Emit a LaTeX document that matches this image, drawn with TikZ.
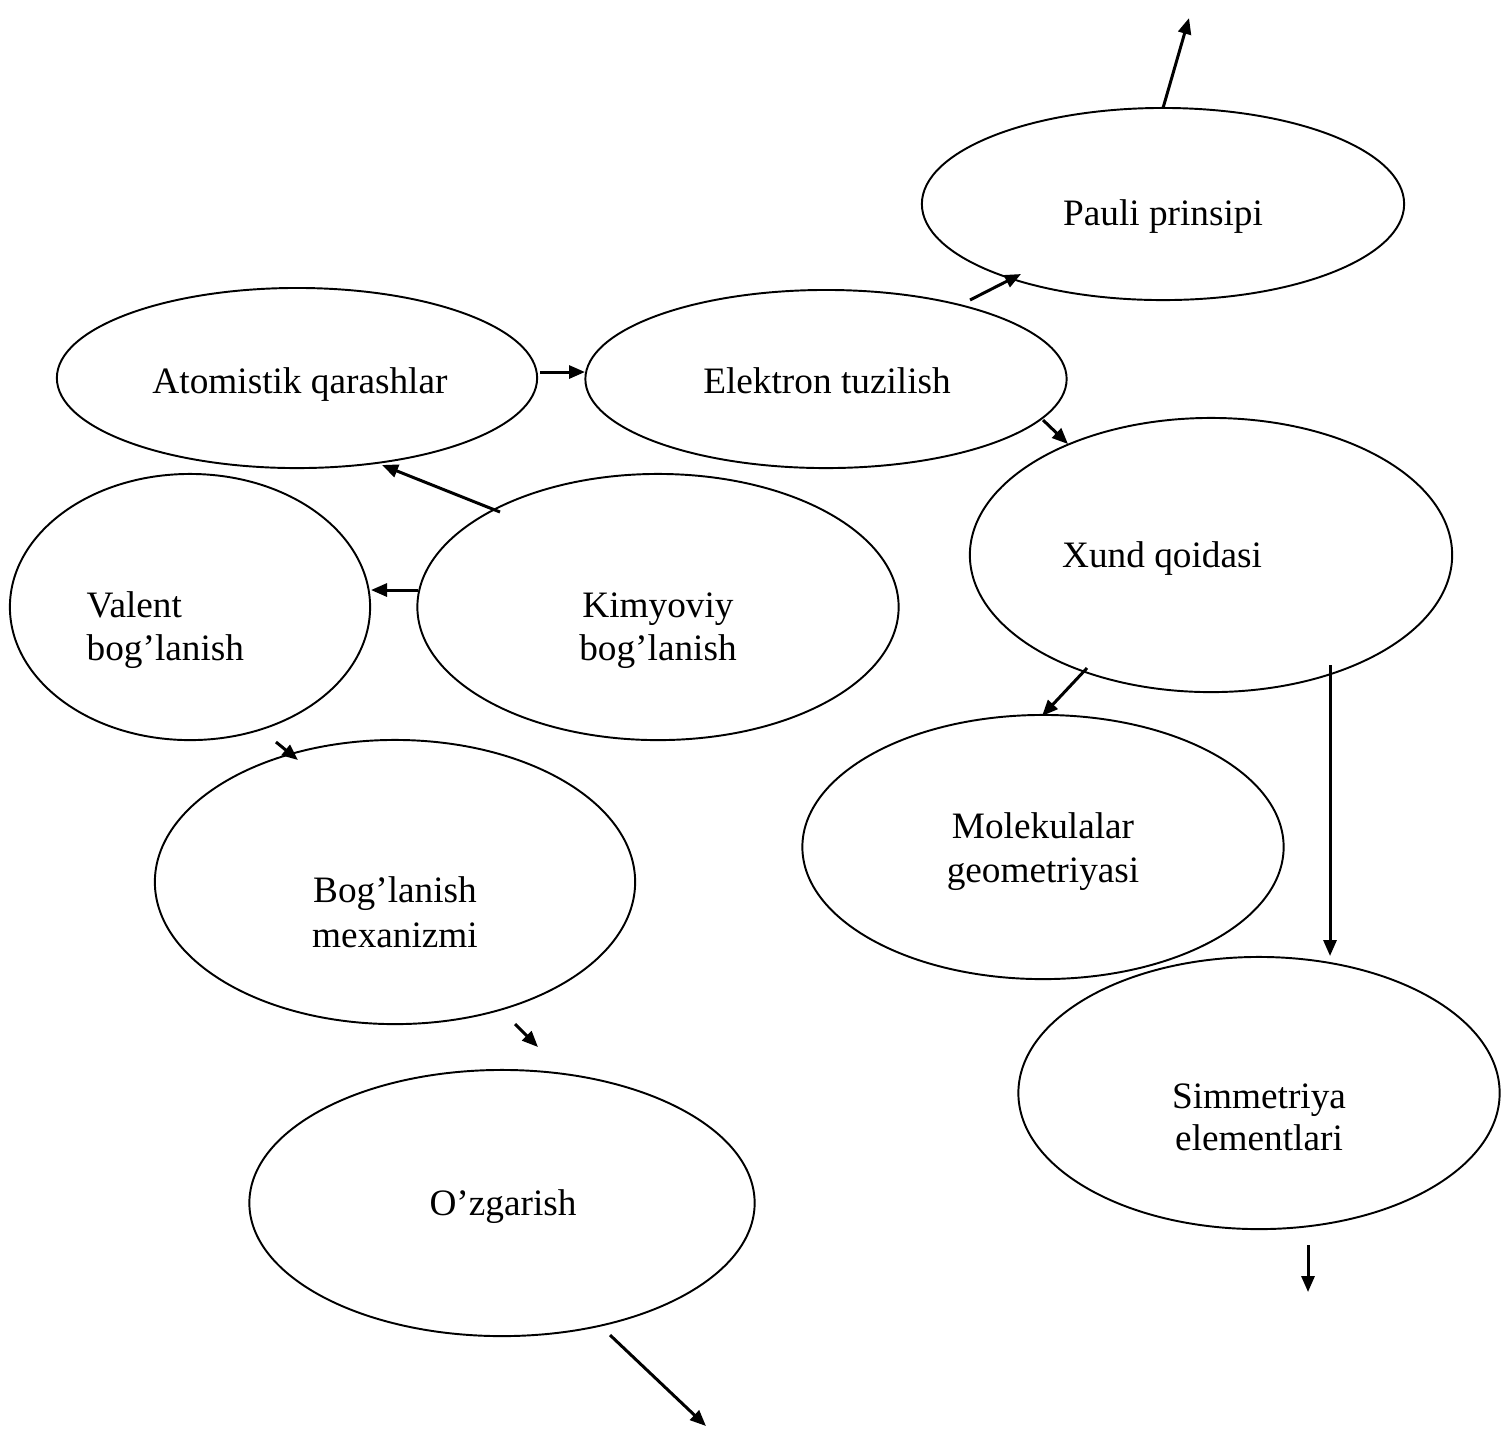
\documentclass[tikz,border=0pt]{standalone}
\usepackage{fontspec}
\setmainfont{Liberation Serif}
\usetikzlibrary{shapes.geometric,arrows.meta}
\begin{document}
\begin{tikzpicture}[x=0.01cm,y=-0.01cm,
  oval/.style={draw,ellipse,line width=0.55pt,inner sep=0pt},
  lbl/.style={anchor=base,inner sep=0pt,font=\fontsize{10.6}{12.8}\selectfont},
  arr/.style={line width=0.85pt,-{Triangle[length=0.16cm,width=0.13cm]}}]
\useasboundingbox (0,0) rectangle (1501,1432);
% ellipses
\node[oval,minimum width=4.82cm,minimum height=1.92cm] (pauli) at (1163,204) {};
\node[oval,minimum width=4.80cm,minimum height=1.80cm] (atom) at (297,378) {};
\node[oval,minimum width=4.81cm,minimum height=1.78cm] (elek) at (826,379) {};
\node[oval,minimum width=4.82cm,minimum height=2.74cm] (xund) at (1211,555) {};
\node[oval,minimum width=3.60cm,minimum height=2.66cm] (valent) at (190,607) {};
\node[oval,minimum width=4.81cm,minimum height=2.66cm] (kimyo) at (658,607) {};
\node[oval,minimum width=4.81cm,minimum height=2.64cm] (molek) at (1043,847) {};
\node[oval,minimum width=4.80cm,minimum height=2.84cm] (mexan) at (395,882) {};
\node[oval,minimum width=4.81cm,minimum height=2.72cm] (simm) at (1259,1093) {};
\node[oval,minimum width=5.05cm,minimum height=2.66cm] (ozg) at (502,1203) {};
% texts
\node[lbl] (tpauli) at (1163,225) {Pauli prinsipi};
\node[lbl] (tatom) at (300,393) {Atomistik qarashlar};
\node[lbl] (telek) at (827,393) {Elektron tuzilish};
\node[lbl] (txund) at (1162,567) {Xund qoidasi};
\node[lbl,anchor=base west] (tval1) at (86,617) {Valent};
\node[lbl,anchor=base west] (tval2) at (86,660) {bog’lanish};
\node[lbl] (tkim1) at (658,617) {Kimyoviy};
\node[lbl] (tkim2) at (658,660) {bog’lanish};
\node[lbl] (tmol1) at (1043,838) {Molekulalar};
\node[lbl] (tmol2) at (1043,882) {geometriyasi};
\node[lbl] (tmex1) at (395,902) {Bog’lanish};
\node[lbl] (tmex2) at (395,947) {mexanizmi};
\node[lbl] (tsim1) at (1259,1108) {Simmetriya};
\node[lbl] (tsim2) at (1259,1150) {elementlari};
\node[lbl] (tozg) at (503,1215) {O’zgarish};
% connector end points
\coordinate (p1) at (1163,108); \coordinate (p2) at (1189,18);
\coordinate (e1) at (970,300); \coordinate (e2) at (1021,274);
\coordinate (a1) at (540,372); \coordinate (a2) at (585,372);
\coordinate (x1) at (1043,420); \coordinate (x2) at (1068,444);
\coordinate (k1) at (500,512); \coordinate (k2) at (382,465);
\coordinate (k3) at (418,590); \coordinate (k4) at (371,590);
\coordinate (m1) at (1087,668); \coordinate (m2) at (1042,716);
\coordinate (s1) at (1330,665); \coordinate (s2) at (1330,956);
\coordinate (v1) at (276,742); \coordinate (v2) at (298,760);
\coordinate (b1) at (515,1024); \coordinate (b2) at (538,1047);
\coordinate (q1) at (1308,1245); \coordinate (q2) at (1308,1292);
\coordinate (o1) at (610,1335); \coordinate (o2) at (706,1426);
\draw[arr] (p1) -- (p2);
\draw[arr] (e1) -- (e2);
\draw[arr] (a1) -- (a2);
\draw[arr] (x1) -- (x2);
\draw[arr] (k1) -- (k2);
\draw[arr] (k3) -- (k4);
\draw[arr] (m1) -- (m2);
\draw[arr] (s1) -- (s2);
\draw[arr] (v1) -- (v2);
\draw[arr] (b1) -- (b2);
\draw[arr] (q1) -- (q2);
\draw[arr] (o1) -- (o2);
\end{tikzpicture}
\end{document}
